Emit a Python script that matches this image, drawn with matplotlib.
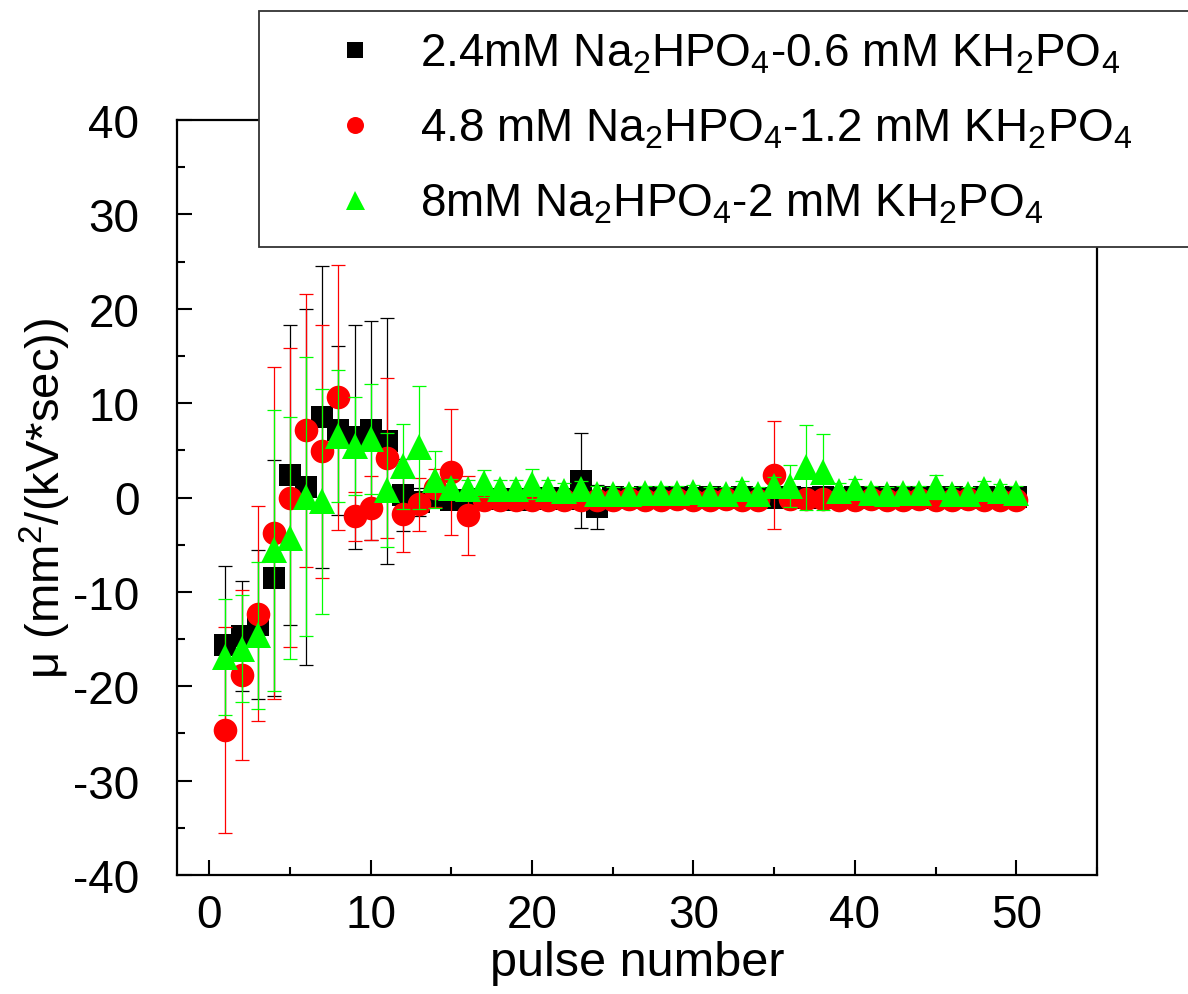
import matplotlib
matplotlib.use("Agg")
import matplotlib.pyplot as plt
from matplotlib.ticker import MultipleLocator

plt.rcParams['font.family'] = ['Liberation Sans', 'DejaVu Sans']
plt.rcParams['mathtext.fontset'] = 'custom'
plt.rcParams['mathtext.rm'] = 'Liberation Sans'
plt.rcParams['mathtext.it'] = 'Liberation Sans:italic'
plt.rcParams['axes.unicode_minus'] = False

pulse = list(range(1, 51))

labels = [
    r"2.4mM Na$\mathregular{_2}$HPO$\mathregular{_4}$-0.6 mM KH$\mathregular{_2}$PO$\mathregular{_4}$",
    r"4.8 mM Na$\mathregular{_2}$HPO$\mathregular{_4}$-1.2 mM KH$\mathregular{_2}$PO$\mathregular{_4}$",
    r"8mM Na$\mathregular{_2}$HPO$\mathregular{_4}$-2 mM KH$\mathregular{_2}$PO$\mathregular{_4}$",
]

black_y = [-15.6, -14.7, -13.5, -8.5, 2.4, 1.1, 8.5, 7.1, 6.4, 7.1, 6.0, 0.3, -0.5, 0.0, -0.3,
           -0.3, -0.2, -0.2, -0.3, -0.2, -0.1, -0.2, 1.8, -1.0, 0.1, 0.0, 0.1, 0.0, 0.1, 0.0,
           0.1, 0.0, 0.1, 0.0, 0.0, 0.1, 0.0, 0.1, 0.0, 0.1, 0.0, 0.1, 0.0, 0.1, 0.0, 0.1,
           0.0, 0.1, 0.0, 0.1]
black_err = [8.3, 5.8, 7.9, 12.5, 15.9, 18.9, 16.0, 9.0, 11.9, 11.6, 13.0, 3.8, 1.5, 1.0, 0.8,
             0.8, 0.7, 0.7, 0.7, 0.6, 0.6, 0.6, 5.0, 2.3, 0.6, 0.5, 0.5, 0.5, 0.5, 0.5,
             0.5, 0.5, 0.5, 0.5, 0.6, 0.5, 0.5, 0.5, 0.5, 0.5, 0.5, 0.5, 0.5, 0.5, 0.5, 0.5,
             0.5, 0.5, 0.5, 0.5]

red_y = [-24.6, -18.8, -12.3, -3.8, 0.0, 7.1, 4.9, 10.6, -2.0, -1.1, 4.2, -1.7, -0.7, 1.0, 2.7,
         -1.9, -0.3, -0.3, -0.3, -0.3, -0.3, -0.3, -0.3, -0.3, -0.3, -0.2, -0.3, -0.3, -0.2, -0.3,
         -0.3, -0.2, -0.3, -0.3, 2.4, -0.2, -0.2, -0.2, -0.3, -0.3, -0.2, -0.3, -0.3, -0.2, -0.3,
         -0.3, -0.2, -0.3, -0.3, -0.3]
red_err = [10.9, 9.05, 11.4, 17.6, 15.8, 14.5, 13.4, 14.0, 2.6, 3.4, 8.5, 4.1, 2.8, 2.0, 6.7,
           4.2, 0.6, 0.6, 0.6, 0.6, 0.6, 0.6, 0.6, 0.6, 0.6, 0.6, 0.6, 0.6, 0.6, 0.6,
           0.6, 0.6, 0.6, 0.6, 5.7, 0.7, 0.7, 0.7, 0.6, 0.6, 0.6, 0.6, 0.6, 0.6, 0.6,
           0.6, 0.6, 0.6, 0.6, 0.6]

green_y = [-16.9, -16.0, -14.6, -5.6, -4.3, 0.1, -0.4, 6.5, 5.5, 6.2, 0.8, 3.3, 5.3, 1.9, 1.0,
           0.9, 1.5, 0.9, 0.9, 1.4, 0.9, 0.7, 0.9, 0.4, 0.4, 0.4, 0.5, 0.5, 0.5, 0.6,
           0.4, 0.4, 0.9, 0.4, 1.2, 1.2, 3.2, 2.7, 0.7, 1.0, 0.5, 0.4, 0.5, 0.5, 1.1,
           0.4, 0.4, 0.9, 0.7, 0.5]
green_err = [6.1, 5.7, 7.8, 14.9, 12.8, 14.8, 11.9, 7.0, 5.2, 5.8, 6.0, 4.5, 6.5, 3.0, 1.0,
             1.0, 1.4, 1.0, 1.0, 1.6, 1.0, 0.8, 0.8, 0.8, 0.7, 0.7, 0.7, 0.7, 0.7, 0.7,
             0.7, 0.7, 0.9, 0.7, 1.0, 2.2, 4.5, 4.0, 0.8, 1.0, 0.7, 0.7, 0.7, 0.7, 1.3,
             0.7, 0.7, 0.8, 0.7, 0.7]

fig = plt.figure(figsize=(11.88, 9.95), dpi=100)
ax = fig.add_axes([177/1188, 1-876/995, (1097-177)/1188, (876-121)/995])

series = [
    (black_y, black_err, 's', 'black', 15.5),
    (red_y, red_err, 'o', '#ff0000', 17),
    (green_y, green_err, '^', '#00ff00', 19),
]
handles = []
for i, (yv, ev, mk, col, ms) in enumerate(series):
    h = ax.errorbar(pulse, yv, yerr=ev, fmt=mk, color=col, ecolor=col, markersize=ms,
                    elinewidth=0.9, capsize=5, capthick=0.9, zorder=3 + i)
    h[0].set_markeredgewidth(0)
    handles.append(h[0])

ax.set_xlim(-2, 55)
ax.set_ylim(-40, 40)
ax.xaxis.set_major_locator(MultipleLocator(10))
ax.xaxis.set_minor_locator(MultipleLocator(5))
ax.yaxis.set_major_locator(MultipleLocator(10))
ax.yaxis.set_minor_locator(MultipleLocator(5))
ax.tick_params(which='both', direction='in', top=False, right=False, width=1.5)
ax.tick_params(which='major', length=11, labelsize=33)
ax.tick_params(which='minor', length=6)
ax.tick_params(axis='x', pad=13)
ax.tick_params(axis='y', pad=27)
for s in ax.spines.values():
    s.set_linewidth(1.6)

ax.set_xlabel('pulse number', fontsize=35, labelpad=2)
ax.set_ylabel(r'μ (mm$\mathregular{^2}$/(kV*sec))', fontsize=34, labelpad=0)

leg = fig.legend(handles, labels, loc='upper left',
                 bbox_to_anchor=(259/1188, 1-12/995, 0.80, 0), mode='expand',
                 borderaxespad=0,
                 fontsize=33, frameon=True, fancybox=False, framealpha=1,
                 edgecolor='#333333', markerscale=0.72, borderpad=0.45,
                 handlelength=3.3, handletextpad=-0.24, labelspacing=0.68)
leg.get_frame().set_linewidth(1.3)
leg.set_zorder(10)

fig.savefig('out.png', dpi=100)
